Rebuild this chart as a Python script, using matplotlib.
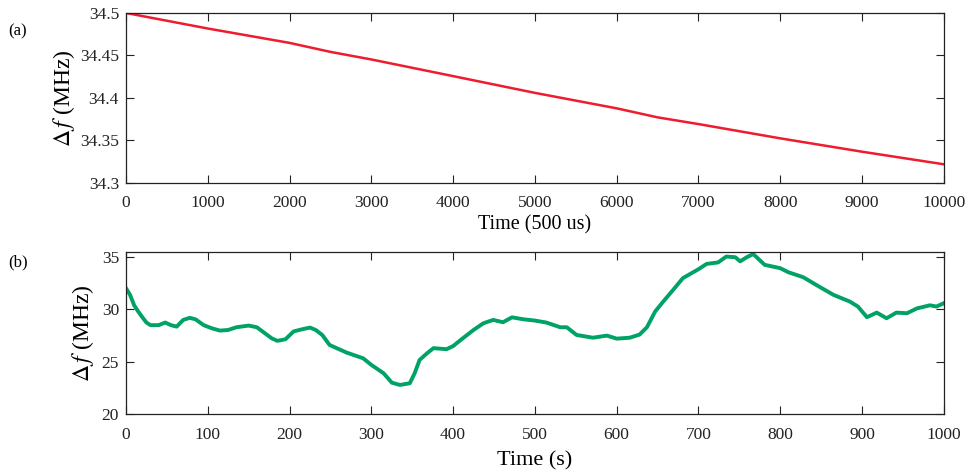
import matplotlib
matplotlib.use('Agg')
import matplotlib.pyplot as plt

plt.rcParams['font.family'] = ['Liberation Serif', 'DejaVu Serif']
plt.rcParams['mathtext.fontset'] = 'stix'

# (a) drift, values
t_a = [0, 1000, 2000, 2500, 3000, 4000, 5000, 6000, 6500, 7000, 8000, 9000, 10000]
df_a = [34.500, 34.4817, 34.4648, 34.4542, 34.4453, 34.4257, 34.406, 34.3878,
        34.3772, 34.3693, 34.3525, 34.3368, 34.322]

# (b) frequency over time
t_b = [0, 5, 10, 15, 20, 25, 30, 40, 48, 55, 62, 70, 78, 85, 95, 105, 115, 125, 135,
       150, 160, 170, 178, 185, 195, 205, 215, 225, 232, 240, 249, 270, 290, 300,
       315, 325, 335, 347, 353, 359, 368, 376, 392, 400, 412, 425, 437, 449, 461,
       472, 486, 500, 514, 531, 539, 551, 571, 588, 600, 616, 628, 637, 647, 657,
       669, 681, 700, 710, 724, 734, 745, 751, 759, 767, 781, 800, 810, 828, 844,
       865, 885, 895, 906, 918, 930, 942, 955, 967, 983, 991, 1000]
df_b = [32.03, 31.4, 30.4, 29.8, 29.26, 28.75, 28.5, 28.5, 28.75, 28.5, 28.36, 29.0,
        29.2, 29.06, 28.5, 28.2, 27.98, 28.04, 28.3, 28.46, 28.3, 27.72, 27.25, 27.0,
        27.15, 27.9, 28.1, 28.27, 28.04, 27.56, 26.6, 25.87, 25.33, 24.7, 23.9, 23.0,
        22.78, 22.94, 23.9, 25.17, 25.8, 26.3, 26.2, 26.5, 27.25, 28.04, 28.68, 29.0,
        28.78, 29.25, 29.06, 28.94, 28.75, 28.3, 28.3, 27.56, 27.3, 27.5, 27.21, 27.3,
        27.6, 28.3, 29.8, 30.76, 31.87, 33.0, 33.85, 34.36, 34.5, 35.06, 35.0, 34.6,
        35.0, 35.3, 34.27, 33.95, 33.56, 33.09, 32.35, 31.4, 30.76, 30.28, 29.26,
        29.7, 29.16, 29.7, 29.64, 30.1, 30.4, 30.28, 30.6]

yticks_a = [34.3, 34.35, 34.4, 34.45, 34.5]
ylabels_a = ['34.3', '34.35', '34.4', '34.45', '34.5']

fig = plt.figure(figsize=(9.69, 4.71), dpi=100)
ax1 = fig.add_axes([0.130, 0.6115, 0.844, 0.361])
ax2 = fig.add_axes([0.130, 0.121, 0.844, 0.344])

ax1.plot(t_a, df_a, color='#ee1c2e', lw=1.8)
ax1.set_xlim(0, 10000)
ax1.set_ylim(34.3, 34.5)
ax1.set_xticks(range(0, 10001, 1000))
ax1.set_yticks(yticks_a)
ax1.set_yticklabels(ylabels_a)
ax1.set_xlabel('Time (500 us)', fontsize=14.5, labelpad=3)
ax1.set_ylabel(r'$\Delta\,f$ (MHz)', fontsize=17, labelpad=2)

ax2.plot(t_b, df_b, color='#00a266', lw=2.8)
ax2.set_xlim(0, 1000)
ax2.set_ylim(20, 35.5)
ax2.set_xticks(range(0, 1001, 100))
ax2.set_yticks([20, 25, 30, 35])
ax2.set_xlabel('Time (s)', fontsize=16, labelpad=6)
ax2.set_ylabel(r'$\Delta\,f$ (MHz)', fontsize=17, labelpad=4)

for ax in (ax1, ax2):
    ax.tick_params(direction='in', length=6, width=0.8, top=True, right=True,
                   labelsize=12.5, colors='#222222')
    ax.tick_params(axis='x', pad=9)
    ax.tick_params(axis='y', pad=5)
    for s in ax.spines.values():
        s.set_color('#222222')
        s.set_linewidth(0.9)

fig.text(0.008, 0.925, '(a)', fontsize=12)
fig.text(0.008, 0.435, '(b)', fontsize=12)

fig.savefig('out.png', dpi=100)
